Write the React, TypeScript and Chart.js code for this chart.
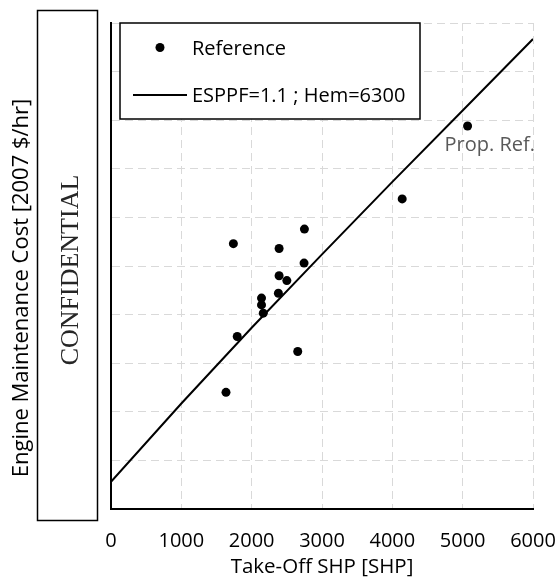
import React, { useEffect, useRef } from "react";
import { Chart, registerables } from "chart.js";

Chart.register(...registerables);

// Reference engines: take-off SHP vs maintenance cost (y values in grid units, axis is confidential)
const refShp = [1740, 2750, 2390, 2745, 2390, 2500, 2380, 2140, 2140, 2165, 1795, 2655, 1635, 4140, 5070];
const refCost = [5.46, 5.76, 5.36, 5.06, 4.8, 4.7, 4.44, 4.34, 4.2, 4.03, 3.55, 3.24, 2.4, 6.38, 7.88];

// Model curve ESPPF=1.1 ; Hem=6300
const fitShp = [0, 1000, 2000, 3000, 4000, 5000, 6000];
const fitCost = [0.56, 2.17, 3.73, 5.24, 6.73, 8.2, 9.67];

const xTickLabels = ["0", "1000", "2000", "3000", "4000", "5000", "6000"];
const seriesNames = ["Reference", "ESPPF=1.1 ; Hem=6300"];
const propRefLabel = "Prop. Ref.";
const xTitle = "Take-Off SHP [SHP]";
const yTitle = "Engine Maintenance Cost [2007 $/hr]";
const maskText = "CONFIDENTIAL";

const xMin = 0;
const xMax = 6000;
const xStep = 1000;
const yMin = 0;
const yMax = 10;
const yStep = 1;

const FONT = '"Open Sans", "Noto Sans", sans-serif';

const overlayPlugin = {
  id: "overlay",
  afterDraw(chart: any) {
    const ctx = chart.ctx as CanvasRenderingContext2D;
    const xs = chart.scales.x;
    const ys = chart.scales.y;

    // Y axis title
    ctx.save();
    ctx.font = `22px ${FONT}`;
    ctx.fillStyle = "#000";
    ctx.textAlign = "center";
    ctx.textBaseline = "middle";
    ctx.translate(22, 288);
    ctx.rotate(-Math.PI / 2);
    ctx.fillText(yTitle, 0, 0);
    ctx.restore();

    // Confidential box covering y tick labels
    ctx.save();
    ctx.fillStyle = "#fff";
    ctx.fillRect(37, 10, 60, 510);
    ctx.strokeStyle = "#000";
    ctx.lineWidth = 1.5;
    ctx.strokeRect(37.5, 10.5, 60, 510);
    ctx.translate(71, 270);
    ctx.rotate(-Math.PI / 2);
    ctx.font = `26px "Liberation Serif", "DejaVu Serif", serif`;
    ctx.fillStyle = "#262626";
    ctx.textAlign = "center";
    ctx.textBaseline = "middle";
    ctx.fillText(maskText, 0, 0);
    ctx.restore();

    // Prop. Ref. annotation
    const last = refShp.length - 1;
    const px = xs.getPixelForValue(refShp[last]);
    const py = ys.getPixelForValue(refCost[last]);
    ctx.save();
    ctx.font = `20px ${FONT}`;
    ctx.fillStyle = "#595959";
    ctx.textAlign = "left";
    ctx.textBaseline = "alphabetic";
    ctx.fillText(propRefLabel, px - 23, py + 24.5);
    ctx.restore();

    // Legend box
    const lx = 120, ly = 23, lw = 300, lh = 96;
    ctx.save();
    ctx.fillStyle = "#fff";
    ctx.fillRect(lx, ly, lw, lh);
    ctx.strokeStyle = "#000";
    ctx.lineWidth = 1.5;
    ctx.strokeRect(lx, ly, lw, lh);
    ctx.fillStyle = "#000";
    ctx.beginPath();
    ctx.arc(160, 47.5, 4.5, 0, Math.PI * 2);
    ctx.fill();
    ctx.font = `20px ${FONT}`;
    ctx.textAlign = "left";
    ctx.textBaseline = "alphabetic";
    ctx.fillText(seriesNames[0], 192, 54.5);
    ctx.strokeStyle = "#000";
    ctx.lineWidth = 2;
    ctx.beginPath();
    ctx.moveTo(133, 95);
    ctx.lineTo(187, 95);
    ctx.stroke();
    ctx.fillText(seriesNames[1], 192, 102);
    ctx.restore();
  },
};

export default function App() {
  const canvasRef = useRef<HTMLCanvasElement | null>(null);

  useEffect(() => {
    const canvas = canvasRef.current;
    if (!canvas) return;
    const chart = new Chart(canvas, {
      type: "scatter",
      data: {
        datasets: [
          {
            label: seriesNames[0],
            data: refShp.map((x, i) => ({ x, y: refCost[i] })),
            backgroundColor: "#000",
            borderColor: "#000",
            borderWidth: 0,
            pointRadius: 4.5,
            pointHoverRadius: 4.5,
          },
          {
            type: "line",
            label: seriesNames[1],
            data: fitShp.map((x, i) => ({ x, y: fitCost[i] })),
            borderColor: "#000",
            backgroundColor: "#000",
            borderWidth: 2,
            pointRadius: 0,
            showLine: true,
            tension: 0,
            fill: false,
          } as any,
        ],
      },
      options: {
        responsive: false,
        animation: false,
        devicePixelRatio: 1,
        layout: { padding: { left: 0, top: 23, right: 25, bottom: 0 } },
        plugins: {
          legend: { display: false },
          tooltip: { enabled: false },
          title: { display: false },
        },
        scales: {
          x: {
            type: "linear",
            min: xMin,
            max: xMax,
            ticks: {
              stepSize: xStep,
              color: "#000",
              font: { family: FONT, size: 20 },
              padding: 20,
              maxRotation: 0,
              callback: (_v: any, i: number) => xTickLabels[i],
            },
            grid: { color: "#d9d9d9", lineWidth: 1, drawTicks: false },
            border: { display: true, color: "#000", width: 2, dash: [8, 5] },
            title: {
              display: true,
              text: xTitle,
              color: "#000",
              font: { family: FONT, size: 20.5 },
              padding: { top: 0, bottom: 0 },
            },
            afterFit: (s: any) => {
              s.height = 70;
              s.paddingLeft = 0;
              s.paddingRight = 0;
            },
          },
          y: {
            type: "linear",
            min: yMin,
            max: yMax,
            ticks: { stepSize: yStep, display: false },
            grid: { color: "#d9d9d9", lineWidth: 1, drawTicks: false },
            border: { display: true, color: "#000", width: 2, dash: [8, 5] },
            afterFit: (s: any) => {
              s.width = 111;
              s.paddingTop = 0;
              s.paddingBottom = 0;
            },
          },
        },
      },
      plugins: [overlayPlugin],
    });
    return () => chart.destroy();
  }, []);

  return (
    <div style={{ position: "fixed", left: 0, top: 0, width: 558, height: 579, background: "#fff" }}>
      <canvas ref={canvasRef} width={558} height={579} style={{ width: 558, height: 579, display: "block" }} />
    </div>
  );
}
